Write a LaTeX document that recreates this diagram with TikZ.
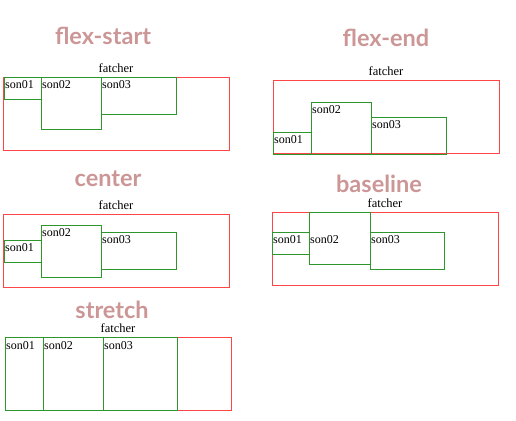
\documentclass[tikz,border=0pt]{standalone}
\usepackage{fontspec}
\setmainfont{Liberation Serif}
\newfontfamily\titlefont{Lato}
\usetikzlibrary{positioning}
\definecolor{titlepink}{RGB}{204,150,150}
\definecolor{boxred}{RGB}{255,70,70}
\definecolor{boxgreen}{RGB}{45,150,45}
\begin{document}
\begin{tikzpicture}[x=1pt,y=-1pt,
    father/.style={draw=boxred,line width=1pt,inner sep=0pt,outer sep=0pt,
        minimum width=226pt,minimum height=73pt,anchor=north west},
    son/.style={draw=boxgreen,line width=1pt,inner sep=0pt,outer sep=0pt,anchor=north west},
    sontext/.style={font=\fontsize{12}{12}\selectfont,inner sep=0pt,anchor=base west},
    fathertext/.style={font=\fontsize{12.5}{12}\selectfont,inner sep=0pt},
    heading/.style={font=\titlefont\bfseries\fontsize{23.5}{24}\selectfont,text=titlepink,inner sep=0pt,anchor=base}]
    \useasboundingbox (0,0) rectangle (516,420);
    % flex-start
    \node[heading] (tstart) at (103,45) {flex-start};
    \node[father] (fstart) at (3,77) {};
    \node[fathertext,above=4pt of fstart] (lstart) {fatcher};
    \foreach \i/\x/\y/\w/\h/\t in {1/4/77/37/22/88, 2/41/77/60/52/88, 3/101/77/75/37/88}
        \node[son,minimum width=\w pt,minimum height=\h pt] (sstart\i) at (\x,\y) {}
            node[sontext] (nstart\i) at (\x+1,\t) {son0\i};
    % flex-end
    \node[heading] (tend) at (386,46) {flex-end};
    \node[father] (fend) at (273,80) {};
    \node[fathertext,above=4pt of fend] (lend) {fatcher};
    \foreach \i/\x/\y/\w/\h/\t in {1/273/132/38/22/143, 2/311/102/60/52/113, 3/371/117/75/37/128}
        \node[son,minimum width=\w pt,minimum height=\h pt] (send\i) at (\x,\y) {}
            node[sontext] (nend\i) at (\x+1,\t) {son0\i};
    % center
    \node[heading] (tcenter) at (108,186) {center};
    \node[father] (fcenter) at (3,214) {};
    \node[fathertext,above=4pt of fcenter] (lcenter) {fatcher};
    \foreach \i/\x/\y/\w/\h/\t in {1/4/240/37/22/251, 2/41/225/60/52/236, 3/101/232/75/37/243}
        \node[son,minimum width=\w pt,minimum height=\h pt] (scenter\i) at (\x,\y) {}
            node[sontext] (ncenter\i) at (\x+1,\t) {son0\i};
    % baseline
    \node[heading] (tbase) at (379,192) {baseline};
    \node[father] (fbase) at (272,212) {};
    \node[fathertext,above=4pt of fbase] (lbase) {fatcher};
    \foreach \i/\x/\y/\w/\h/\t in {1/272/232/37/22/243, 2/309/212/61/52/243, 3/370/232/74/37/243}
        \node[son,minimum width=\w pt,minimum height=\h pt] (sbase\i) at (\x,\y) {}
            node[sontext] (nbase\i) at (\x+1,\t) {son0\i};
    % stretch
    \node[heading] (tstretch) at (112,318) {stretch};
    \node[father] (fstretch) at (5,337) {};
    \node[fathertext,above=4pt of fstretch] (lstretch) {fatcher};
    \foreach \i/\x/\w/\t in {1/5/38/349, 2/43/60/349, 3/103/74/349}
        \node[son,minimum width=\w pt,minimum height=73pt] (sstretch\i) at (\x,337) {}
            node[sontext] (nstretch\i) at (\x+1,\t) {son0\i};
\end{tikzpicture}
\end{document}
